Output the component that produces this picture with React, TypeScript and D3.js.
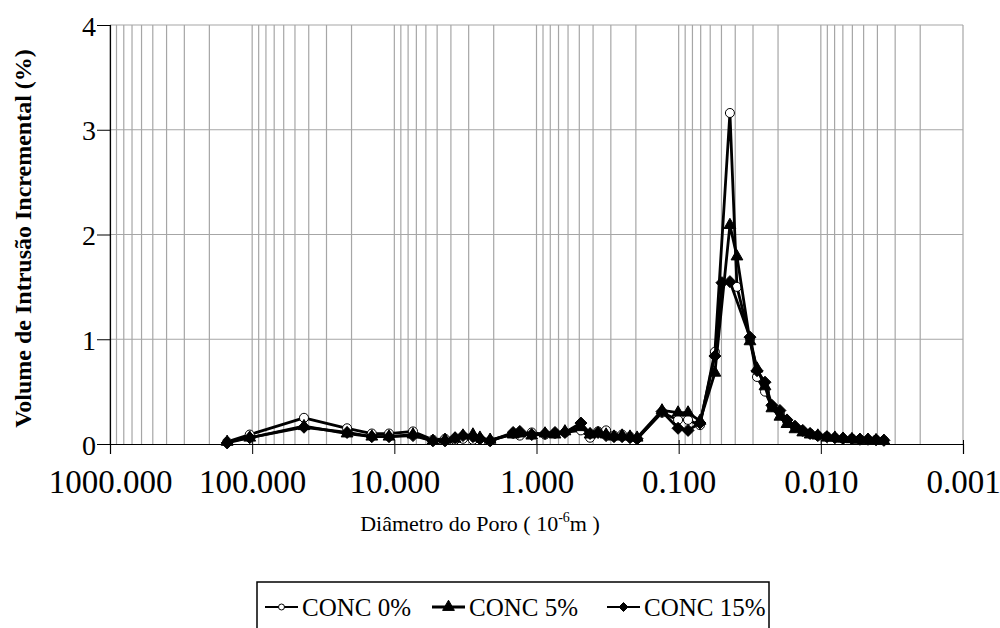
import React, { useEffect, useRef } from 'react';
import * as d3 from 'd3';

// pore diameter (10^-6 m), shared by all three series
const diameters = [
  150, 104, 43.2, 21.5, 14.4, 10.9, 7.39, 5.35, 4.4, 3.74, 3.29, 2.8, 2.5, 2.12,
  1.46, 1.31, 1.08, 0.871, 0.741, 0.631, 0.487, 0.42, 0.369, 0.324, 0.285, 0.25,
  0.22, 0.196, 0.131, 0.101, 0.0859, 0.0708, 0.0556, 0.0496, 0.0436, 0.0389,
  0.0315, 0.0281, 0.0247, 0.0221, 0.0194, 0.0173, 0.0152, 0.0134, 0.0119, 0.0105,
  0.00906, 0.00796, 0.00698, 0.00604, 0.00531, 0.00466, 0.00409, 0.0036,
];

const conc0 = [
  0.02, 0.09, 0.25, 0.15, 0.1, 0.1, 0.12, 0.04, 0.05, 0.04, 0.05, 0.04, 0.05, 0.03,
  0.1, 0.08, 0.11, 0.09, 0.1, 0.11, 0.13, 0.06, 0.12, 0.13, 0.08, 0.09,
  0.07, 0.05, 0.3, 0.23, 0.23, 0.18, 0.88, null, 3.16, 1.5,
  1.0, 0.64, 0.5, 0.36, 0.3, 0.22, 0.16, 0.12, 0.1, 0.08,
  0.07, 0.06, 0.05, 0.05, 0.045, 0.04, 0.04, 0.035,
];

const conc5 = [
  0.02, 0.06, 0.17, 0.1, 0.07, 0.07, 0.09, 0.03, 0.04, 0.05, 0.08, 0.09, 0.06, 0.04,
  0.09, 0.1, 0.08, 0.1, 0.09, 0.12, 0.16, 0.09, 0.1, 0.09, 0.07, 0.08,
  0.07, 0.06, 0.32, 0.3, 0.3, 0.22, 0.68, null, 2.09, 1.79,
  0.98, 0.72, 0.55, 0.34, 0.26, 0.19, 0.14, 0.11, 0.09, 0.08,
  0.06, 0.06, 0.05, 0.045, 0.04, 0.04, 0.035, 0.03,
];

const conc15 = [
  0.01, 0.06, 0.16, 0.11, 0.07, 0.07, 0.08, 0.03, 0.03, 0.06, 0.08, 0.07, 0.05, 0.03,
  0.11, 0.12, 0.09, 0.1, 0.11, 0.11, 0.2, 0.1, 0.11, 0.08, 0.07, 0.07,
  0.06, 0.05, 0.31, 0.15, 0.13, 0.2, 0.84, 1.54, 1.55, null,
  1.02, 0.7, 0.59, 0.37, 0.32, 0.23, 0.17, 0.13, 0.1, 0.08,
  0.07, 0.06, 0.055, 0.05, 0.045, 0.045, 0.04, 0.035,
];

const seriesNames = ['CONC 0%', 'CONC 5%', 'CONC 15%'];
const xTicks = [1000, 100, 10, 1, 0.1, 0.01, 0.001];
const yTicks = [0, 1, 2, 3, 4];

const FONT = "'Liberation Serif', 'Times New Roman', serif";

const App: React.FC = () => {
  const svgRef = useRef<SVGSVGElement>(null);

  useEffect(() => {
    if (!svgRef.current) return;
    const svg = d3.select(svgRef.current);
    svg.selectAll('*').remove();

    const width = 1000;
    const height = 628;
    const margin = { top: 25, right: 37, bottom: 184, left: 110 };

    svg.attr('width', width).attr('height', height).attr('font-family', FONT);

    const x = d3.scaleLog()
      .domain([1000, 0.001])
      .range([margin.left, width - margin.right]);
    const y = d3.scaleLinear()
      .domain([0, 4])
      .range([height - margin.bottom, margin.top]);

    const g = svg.append('g');

    // minor + major vertical grid lines
    const gridVals: number[] = [];
    for (let e = -3; e < 3; e++) {
      for (let k = 1; k <= 9; k++) gridVals.push(k * Math.pow(10, e));
    }
    gridVals.push(1000);
    g.append('g')
      .selectAll('line')
      .data(gridVals)
      .join('line')
      .attr('x1', d => x(d))
      .attr('x2', d => x(d))
      .attr('y1', y(4))
      .attr('y2', y(0))
      .attr('stroke', '#a6a6a6')
      .attr('stroke-width', 1.2);

    // horizontal grid
    g.append('g')
      .selectAll('line')
      .data(yTicks.filter(d => d > 0))
      .join('line')
      .attr('x1', x(1000))
      .attr('x2', x(0.001))
      .attr('y1', d => y(d))
      .attr('y2', d => y(d))
      .attr('stroke', '#a6a6a6')
      .attr('stroke-width', 1.2);

    // axes
    const xAxis = g.append('g')
      .attr('transform', `translate(0,${y(0)})`)
      .call(d3.axisBottom(x).tickValues(xTicks).tickFormat(d3.format('.3f') as any).tickSize(10));
    xAxis.attr('font-family', FONT);
    xAxis.select('.domain').attr('stroke', '#000').attr('stroke-width', 1.2);
    xAxis.selectAll('.tick line').attr('stroke', '#000').attr('y1', -4);
    xAxis.selectAll('.tick text')
      .attr('y', 49)
      .attr('dy', 0)
      .attr('font-family', FONT)
      .attr('font-size', 33)
      .attr('fill', '#000');

    const yAxis = g.append('g')
      .attr('transform', `translate(${x(1000)},0)`)
      .call(d3.axisLeft(y).tickValues(yTicks).tickFormat(d3.format('d') as any).tickSize(13));
    yAxis.attr('font-family', FONT);
    yAxis.select('.domain').attr('stroke', '#000').attr('stroke-width', 1.2);
    yAxis.selectAll('.tick line').attr('stroke', '#000').attr('x2', -13);
    yAxis.selectAll('.tick text')
      .attr('x', -14)
      .attr('dy', '0.36em')
      .attr('font-family', FONT)
      .attr('font-size', 28)
      .attr('fill', '#000');

    // series
    const symbols = [
      d3.symbol(d3.symbolCircle, 64)(),
      d3.symbol(d3.symbolTriangle, 60)(),
      'M0,-6L6,0L0,6L-6,0Z',
    ];
    const fills = ['#fff', '#000', '#000'];
    const allSeries = [conc0, conc5, conc15];

    const line = d3.line<[number, number]>()
      .x(d => x(d[0]))
      .y(d => y(d[1]));

    allSeries.forEach((vals, i) => {
      const pts: [number, number][] = diameters
        .map((d, j) => [d, vals[j]] as [number, number | null])
        .filter(p => p[1] !== null) as [number, number][];
      const sg = g.append('g');
      sg.append('path')
        .attr('d', line(pts))
        .attr('fill', 'none')
        .attr('stroke', '#000')
        .attr('stroke-width', 2.8)
        .attr('stroke-linejoin', 'round');
      sg.selectAll('path.mk')
        .data(pts)
        .join('path')
        .attr('class', 'mk')
        .attr('d', symbols[i])
        .attr('transform', d => `translate(${x(d[0])},${y(d[1])})`)
        .attr('fill', fills[i])
        .attr('stroke', '#000')
        .attr('stroke-width', 1);
    });

    // y axis title
    svg.append('text')
      .attr('transform', `translate(31,${(y(0) + y(4)) / 2 + 4}) rotate(-90)`)
      .attr('text-anchor', 'middle')
      .attr('font-family', FONT)
      .attr('font-size', 24)
      .attr('font-weight', 'bold')
      .text('Volume de Intrusão Incremental (%)');

    // x axis title
    const xt = svg.append('text')
      .attr('x', 480)
      .attr('y', 531)
      .attr('text-anchor', 'middle')
      .attr('font-family', FONT)
      .attr('font-size', 22);
    xt.append('tspan').text('Diâmetro do Poro ( 10');
    xt.append('tspan').attr('dy', -9).attr('font-size', 14).text('-6');
    xt.append('tspan').attr('dy', 9).text('m )');

    // legend
    const lg = svg.append('g');
    lg.append('rect')
      .attr('x', 257)
      .attr('y', 582)
      .attr('width', 512)
      .attr('height', 60)
      .attr('fill', '#fff')
      .attr('stroke', '#000')
      .attr('stroke-width', 1.5);
    const lx = [265, 432, 607];
    seriesNames.forEach((name, i) => {
      const item = lg.append('g').attr('transform', `translate(${lx[i]},607)`);
      item.append('line')
        .attr('x1', 0).attr('x2', 33)
        .attr('stroke', '#000')
        .attr('stroke-width', i === 1 ? 3 : 2);
      item.append('path')
        .attr('d', i === 0 ? d3.symbol(d3.symbolCircle, 28)() : i === 1 ? d3.symbol(d3.symbolTriangle, 60)() : 'M0,-4.5L4.5,0L0,4.5L-4.5,0Z')
        .attr('transform', 'translate(16.5,0)')
        .attr('fill', fills[i])
        .attr('stroke', '#000')
        .attr('stroke-width', 1);
      item.append('text')
        .attr('x', 37)
        .attr('y', 9)
        .attr('font-family', FONT)
        .attr('font-size', 25)
        .text(name);
    });
  }, []);

  return (
    <div style={{ position: 'absolute', left: 0, top: 0, width: 1000, height: 628, background: '#fff', overflow: 'hidden' }}>
      <svg ref={svgRef} />
    </div>
  );
};

export default App;
